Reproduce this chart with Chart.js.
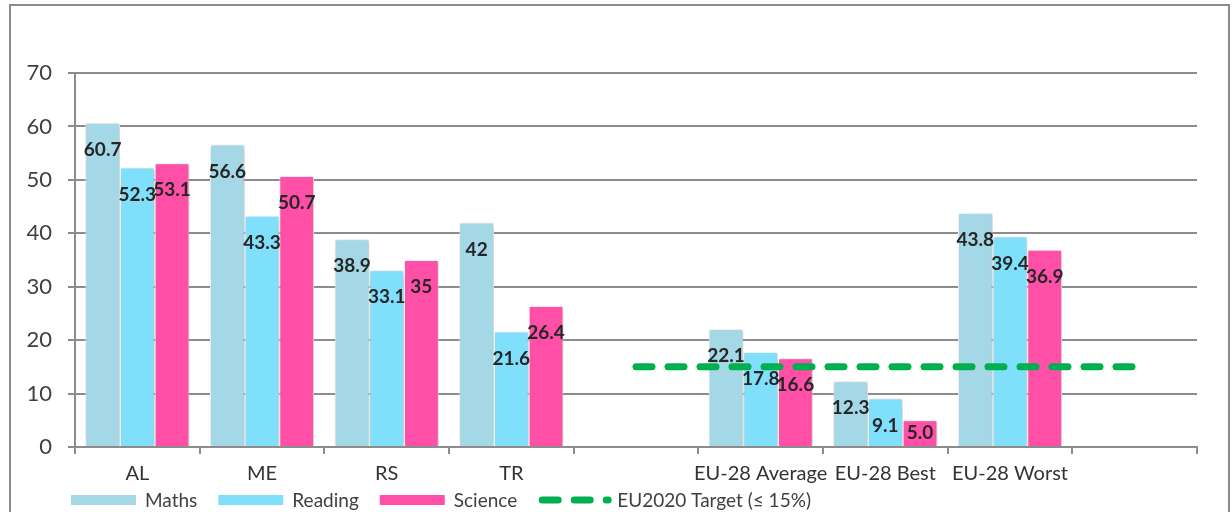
<!DOCTYPE html>
<html>
<head>
<meta charset="utf-8">
<script src="https://cdn.jsdelivr.net/npm/chart.js@4.4.1/dist/chart.umd.min.js"></script>
<style>
  body { margin: 0; background: #fff; }
  #wrap { width: 1232px; height: 512px; }
</style>
</head>
<body>
<div id="wrap"><canvas id="chart1" width="1232" height="512"></canvas></div>
<script>
"use strict";

// data
var categories = ["AL", "ME", "RS", "TR", "", "EU-28 Average", "EU-28 Best", "EU-28 Worst", ""];
var maths = [60.7, 56.6, 38.9, 42, null, 22.1, 12.3, 43.8, null];
var reading = [52.3, 43.3, 33.1, 21.6, null, 17.8, 9.1, 39.4, null];
var science = [53.1, 50.7, 35, 26.4, null, 16.6, 5.0, 36.9, null];
var target = [null, null, null, null, 15, 15, 15, 15, 15];

var mathsLabels = ["60.7", "56.6", "38.9", "42", "", "22.1", "12.3", "43.8", ""];
var readingLabels = ["52.3", "43.3", "33.1", "21.6", "", "17.8", "9.1", "39.4", ""];
var scienceLabels = ["53.1", "50.7", "35", "26.4", "", "16.6", "5.0", "36.9", ""];

var yTicks = [0, 10, 20, 30, 40, 50, 60, 70];

Chart.defaults.font.family = "Lato, 'Open Sans', sans-serif";

var gridColor = "#8c8c8c";

// frame round the whole chart
var framePlugin = {
  id: "frame",
  beforeDraw: function (chart) {
    var c = chart.ctx;
    c.save();
    c.strokeStyle = "#8c8c8c";
    c.lineWidth = 2;
    c.strokeRect(10, 5, 1219, 530);
    c.restore();
  },
};

// soft shadow under bars
var shadowPlugin = {
  id: "barShadow",
  beforeDatasetDraw: function (chart, args) {
    if (args.meta.type !== "bar") return;
    var c = chart.ctx;
    c.save();
    c.shadowColor = "rgba(0,0,0,0.28)";
    c.shadowBlur = 4;
    c.shadowOffsetX = 1;
    c.shadowOffsetY = 1;
  },
  afterDatasetDraw: function (chart, args) {
    if (args.meta.type !== "bar") return;
    chart.ctx.restore();
  },
};

// value labels inside the bar tops
var labelPlugin = {
  id: "valueLabels",
  afterDatasetsDraw: function (chart) {
    var c = chart.ctx;
    c.save();
    c.font = "bold 19px Lato, sans-serif";
    c.fillStyle = "#262626";
    c.textAlign = "center";
    c.textBaseline = "middle";
    chart.data.datasets.forEach(function (ds, i) {
      if (!ds.valueLabels) return;
      var meta = chart.getDatasetMeta(i);
      meta.data.forEach(function (el, j) {
        var txt = ds.valueLabels[j];
        if (!txt) return;
        var y = el.y + 27;
        if (y > el.base - 12) y = (el.y + el.base) / 2;
        c.fillText(txt, el.x, y);
      });
    });
    c.restore();
  },
};

// legend along the bottom
var legendPlugin = {
  id: "bottomLegend",
  afterDraw: function (chart) {
    var c = chart.ctx;
    var x = 71;
    var yc = 500;
    c.save();
    c.font = "19px Lato, sans-serif";
    c.textBaseline = "middle";
    c.fillStyle = "#404040";
    chart.data.datasets.slice().sort(function (a, b) {
      return a.legendOrder - b.legendOrder;
    }).forEach(function (ds) {
      if (ds.type === "line") {
        c.save();
        c.strokeStyle = ds.borderColor;
        c.lineWidth = ds.borderWidth;
        c.lineCap = "round";
        c.setLineDash(ds.borderDash);
        c.beginPath();
        c.moveTo(x + 4, yc);
        c.lineTo(x + 70, yc);
        c.stroke();
        c.restore();
        x += 79;
      } else {
        c.fillStyle = ds.backgroundColor;
        c.fillRect(x, yc - 5, 65, 10);
        x += 74;
      }
      c.fillStyle = "#404040";
      c.fillText(ds.label, x, yc + 1);
      x += c.measureText(ds.label).width + 21;
    });
    c.restore();
  },
};

var ctx = document.getElementById("chart1").getContext("2d");

var myChart = new Chart(ctx, {
  type: "bar",
  data: {
    labels: categories,
    datasets: [
      {
        type: "line",
        label: "EU2020 Target (≤ 15%)",
        data: target,
        borderColor: "#00b050",
        backgroundColor: "#00b050",
        borderWidth: 7,
        borderDash: [16, 16],
        borderCapStyle: "round",
        pointRadius: 0,
        fill: false,
        order: 0,
        legendOrder: 3,
      },
      {
        label: "Maths",
        data: maths,
        valueLabels: mathsLabels,
        backgroundColor: "#a5d8e6",
        borderColor: "#ffffff",
        borderWidth: 1,
        order: 1,
        legendOrder: 0,
      },
      {
        label: "Reading",
        data: reading,
        valueLabels: readingLabels,
        backgroundColor: "#80e0fc",
        borderColor: "#ffffff",
        borderWidth: 1,
        order: 1,
        legendOrder: 1,
      },
      {
        label: "Science",
        data: science,
        valueLabels: scienceLabels,
        backgroundColor: "#ff4fa7",
        borderColor: "#ffffff",
        borderWidth: 1,
        order: 1,
        legendOrder: 2,
      },
    ],
  },
  options: {
    responsive: false,
    animation: false,
    categoryPercentage: 0.835,
    barPercentage: 1.0,
    layout: {
      padding: { left: 0, top: 73, right: 35, bottom: 0 },
    },
    plugins: {
      legend: { display: false },
      tooltip: { enabled: false },
    },
    scales: {
      x: {
        afterFit: function (s) {
          s.height = 65;
        },
        grid: {
          offset: true,
          drawOnChartArea: false,
          drawTicks: true,
          tickLength: 7,
          color: gridColor,
          lineWidth: 2,
        },
        border: { color: gridColor, width: 2 },
        ticks: {
          color: "#333333",
          font: { size: 20 },
          padding: 8,
          maxRotation: 0,
          autoSkip: false,
        },
      },
      y: {
        min: 0,
        max: 70,
        afterFit: function (s) {
          s.width = 75;
        },
        afterBuildTicks: function (s) {
          s.ticks = yTicks.map(function (v) {
            return { value: v };
          });
        },
        grid: {
          color: gridColor,
          lineWidth: 2,
          drawTicks: true,
          tickLength: 7,
        },
        border: { color: gridColor, width: 2 },
        ticks: {
          color: "#404040",
          font: { size: 22 },
          padding: 16,
        },
      },
    },
  },
  plugins: [framePlugin, shadowPlugin, labelPlugin, legendPlugin],
});
</script>
</body>
</html>
